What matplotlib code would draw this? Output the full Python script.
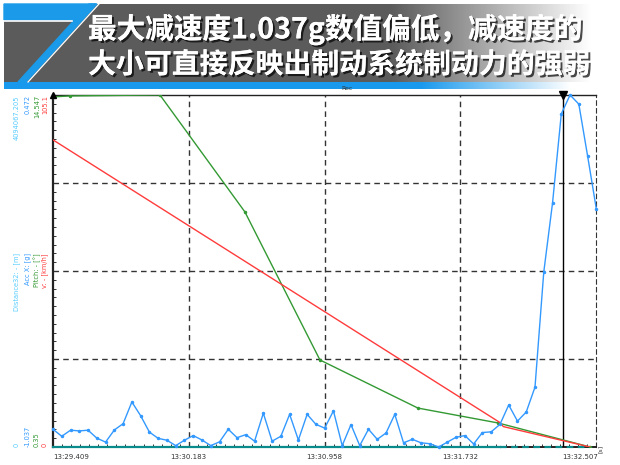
import numpy as np
import matplotlib.pyplot as plt
import matplotlib.patches as mpatches
import matplotlib.patheffects as pe

plt.rcParams['font.family'] = ['DejaVu Sans']

# x axis: seconds after 13:29.409
TICK_TIMES = [0.0, 0.7745, 1.549, 2.3235, 3.098]
TICK_LABELS = ['13:29.409', '13:30.183', '13:30.958', '13:31.732', '13:32.507']
CURSOR_T = 2.91

# Acc X [g], one sample every 0.05 s
acc_x = [-0.961, -0.991, -0.965, -0.968, -0.965, -0.999, -1.016, -0.964, -0.937, -0.844,
         -0.903, -0.973, -1.000, -1.008, -1.031, -1.008, -0.988, -1.007, -1.031, -1.015,
         -0.961, -0.997, -0.984, -1.012, -0.892, -1.012, -0.991, -0.897, -1.007, -0.897,
         -0.940, -0.956, -0.882, -1.031, -0.941, -1.031, -0.961, -1.004, -0.977, -0.897,
         -1.019, -1.004, -1.019, -1.023, -1.037, -1.016, -0.995, -0.988, -1.024, -0.975,
         -0.972, -0.940, -0.857, -0.926, -0.887, -0.780, -0.287, 0.009, 0.391, 0.472,
         0.433, 0.211, -0.017]
acc_dt = 0.05

# v [km/h]
speed_t = [0.0, 2.550, 2.569, 3.064]
speed = [91.7, 7.3, 6.1, 0.0]

# Pitch [deg]
pitch_t = [0.0, 0.097, 0.61, 1.095, 1.523, 2.082, 2.539, 3.064]
pitch = [14.47, 14.51, 14.55, 9.83, 3.86, 1.92, 1.32, 0.35]

# Distance [m]
dist_t = [0.0, 2.55, 3.064]
dist = [0.0, 0.0, 0.0]

# axis ranges shown on the left
ACC_RANGE = (-1.037, 0.472)
SPEED_RANGE = (0.0, 105.1)
PITCH_RANGE = (0.35, 14.547)
DIST_RANGE = (0.0, 4094067.205)

C_CYAN = '#55ccff'
C_BLUE = '#3399ff'
C_GREEN = '#339933'
C_RED = '#ff3b3b'
C_TEAL = '#0a8a8a'

W, H = 620, 465
fig = plt.figure(figsize=(6.2, 4.65), dpi=100)
fig.patch.set_facecolor('white')

# ---- title banner (pixel coordinates) ----
bx = fig.add_axes([0, 0, 1, 1])
bx.set_xlim(0, W)
bx.set_ylim(H, 0)
bx.axis('off')

grad = np.ones((2, 620, 3))
xs = np.arange(620)
g = np.clip((xs - 390) / 200.0, 0, 1)
shade = 0.36 + (1 - 0.36) * g
grad[:, :, 0] = shade[None, :]
grad[:, :, 1] = shade[None, :]
grad[:, :, 2] = shade[None, :]
bx.imshow(grad, extent=(4, 620, 82, 4), aspect='auto', zorder=1)

band = np.ones((2, 620, 4))
band[:, :, 0] = 0.10
band[:, :, 1] = 0.60
band[:, :, 2] = 0.93
band[:, :, 3] = (1 - np.clip((xs - 420) / 150.0, 0, 1))[None, :]
bx.imshow(band, extent=(4, 620, 89, 82), aspect='auto', zorder=1)

bx.add_patch(mpatches.Polygon([(4, 4), (96, 4), (82, 20), (4, 20)],
                              closed=True, color='#1a9ae8', zorder=2))
bx.add_patch(mpatches.Polygon([(89, 4), (97, 4), (26, 82), (18, 82)],
                              closed=True, color='#1a9ae8', zorder=2))
bx.plot([4, 72], [21.5, 21.5], color='white', lw=1.2, zorder=3)
bx.plot([99, 28], [4, 82], color='white', lw=0.9, zorder=3)

shadow = [pe.withSimplePatchShadow(offset=(1.5, -1.5), shadow_rgbFace='black', alpha=0.7),
          pe.Normal()]
title_font = ['Noto Sans CJK SC', 'DejaVu Sans']
bx.text(88, 29, '最大减速度1.037g数值偏低，减速度的', color='white', fontsize=20.6,
        fontweight='bold', family=title_font, va='center', ha='left', zorder=4,
        path_effects=shadow)
bx.text(88, 65, '大小可直接反映出制动系统制动力的强弱', color='white', fontsize=20.1,
        fontweight='bold', family=title_font, va='center', ha='left', zorder=4,
        path_effects=shadow)

# ---- chart ----
ax = fig.add_axes([53 / W, 18 / H, 543 / W, 352 / H])
ax.set_xlim(TICK_TIMES[0], TICK_TIMES[-1])
ax.set_ylim(DIST_RANGE)
ax.set_facecolor('white')

dash = (0, (4, 3))
for t in TICK_TIMES[1:4]:
    ax.axvline(t, color='#333333', lw=1, linestyle=dash, zorder=1)
for k in (1, 2, 3):
    ax.axhline(DIST_RANGE[0] + k * (DIST_RANGE[1] - DIST_RANGE[0]) / 4,
               color='#333333', lw=1, linestyle=dash, zorder=1)

for side in ('left', 'bottom', 'top'):
    ax.spines[side].set_color('#222222')
ax.spines['left'].set_linewidth(1.6)
ax.spines['bottom'].set_linewidth(1.4)
ax.spines['top'].set_linewidth(1.0)
ax.spines['right'].set_linestyle(dash)
ax.spines['right'].set_color('#333333')

ax.set_xticks(np.linspace(TICK_TIMES[0], TICK_TIMES[-1], 61))
ax.set_yticks(np.linspace(DIST_RANGE[0], DIST_RANGE[1], 41))
ax.tick_params(axis='both', direction='in', length=2.5, width=0.7, color='#333333',
               labelbottom=False, labelleft=False)

ax.plot(dist_t[:2], dist[:2], color=C_TEAL, lw=1.6, zorder=3, clip_on=False)
ax.plot(dist_t[1:], dist[1:], color=C_TEAL, lw=1.6, linestyle=(0, (3, 2)), zorder=3,
        clip_on=False)

ax.axvline(CURSOR_T, color='black', lw=1, zorder=6)

for t, lab in zip(TICK_TIMES, TICK_LABELS):
    ha = 'center'
    xt = t
    if t == TICK_TIMES[0]:
        ha = 'left'
    elif t == TICK_TIMES[-1]:
        ha = 'right'
        xt = t + 0.01
    ax.text(xt, -0.02, lab, transform=ax.get_xaxis_transform(), ha=ha, va='top',
            fontsize=5, color='#333333')

# pitch
axg = ax.twinx()
axg.set_ylim(PITCH_RANGE)
axg.axis('off')
axg.plot(pitch_t, pitch, color=C_GREEN, lw=1, marker='o', markersize=1.5, zorder=3)

# speed
axr = ax.twinx()
axr.set_ylim(SPEED_RANGE)
axr.axis('off')
axr.plot(speed_t, speed, color=C_RED, lw=1, zorder=3)

# acceleration
axb = ax.twinx()
axb.set_ylim(ACC_RANGE)
axb.axis('off')
acc_t = np.arange(len(acc_x)) * acc_dt
axb.plot(acc_t, acc_x, color=C_BLUE, lw=1, marker='o', markersize=1.5, zorder=4,
         clip_on=False)
axb.plot([CURSOR_T], [ACC_RANGE[1]], marker='v', color='black', markersize=6,
         clip_on=False, zorder=7)
axb.plot([0], [ACC_RANGE[1]], marker='^', color='black', markersize=4,
         transform=axb.transData, clip_on=False, zorder=7)

fig.text(347 / W, 1 - 89 / H, 'Rec', fontsize=4.5, ha='center', va='center', color='#333333')
fig.text(598 / W, 1 - 449 / H, '[s]', fontsize=4.5, ha='left', va='center', rotation=90,
         color='#333333')

# left axis captions
cols = [(17, C_CYAN, '4094067.205', 'Distance32: - [m]', '0'),
        (28, C_BLUE, '0.472', 'Acc X: [g]', '-1.037'),
        (37, C_GREEN, '14.547', 'Pitch: - [°]', '0.35'),
        (45, C_RED, '105.1', 'v: - [km/h]', '0')]
for xp, col, top, mid, bot in cols:
    fig.text(xp / W, 1 - 95 / H, top, color=col, fontsize=4.8, rotation=90,
             ha='center', va='top')
    fig.text(xp / W, 1 - 253 / H, mid, color=col, fontsize=4.8, rotation=90,
             ha='center', va='top')
    fig.text(xp / W, 1 - 447 / H, bot, color=col, fontsize=4.8, rotation=90,
             ha='center', va='bottom')

fig.savefig('out.png', dpi=100, facecolor='white')
